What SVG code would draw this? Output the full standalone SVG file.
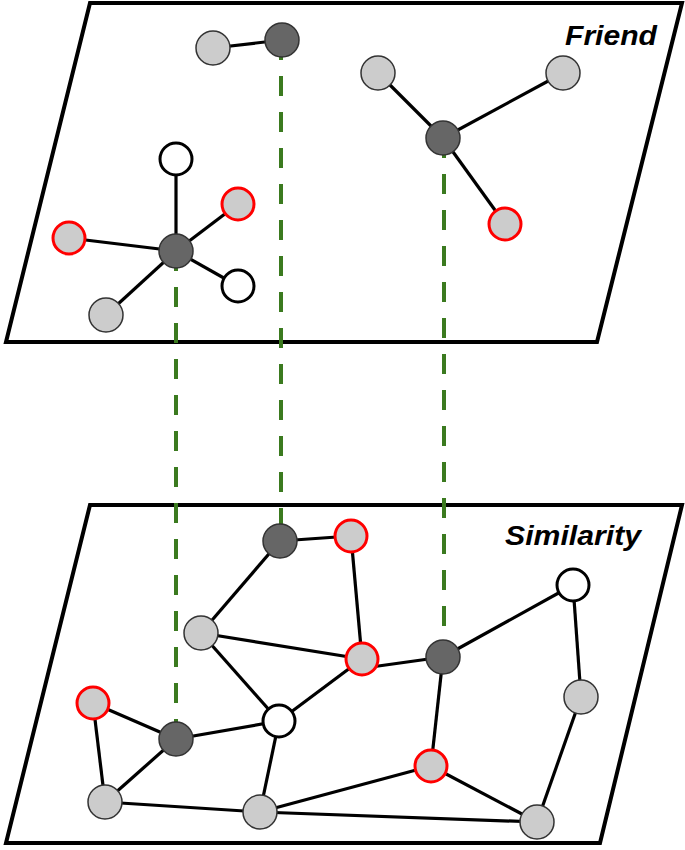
<svg xmlns="http://www.w3.org/2000/svg" width="685" height="850" viewBox="0 0 685 850">
<style>
.plane{fill:#fff;stroke:#000;stroke-width:4;stroke-linejoin:miter}
.e line{stroke:#000;stroke-width:3.2}
.link{stroke:#3b7a1f;stroke-width:4;stroke-dasharray:20 16}
.dk{fill:#666;stroke:#333;stroke-width:1.5}
.lt{fill:#ccc;stroke:#333;stroke-width:1.5}
.rd{fill:#ccc;stroke:#f00;stroke-width:3}
.wt{fill:#fff;stroke:#000;stroke-width:3}
.lbl{font-family:"Liberation Sans",Arial,sans-serif;font-weight:bold;font-style:italic;font-size:28px;fill:#000}
</style>
<g id="plane-friend"><polygon class="plane" points="90,3 682,3 597,342 6,342"/><text class="lbl" x="565" y="45" textLength="92" lengthAdjust="spacingAndGlyphs">Friend</text></g>
<g id="plane-similarity"><polygon class="plane" points="90,505 682,505 600,843 6,843"/><text class="lbl" x="505" y="545" textLength="136" lengthAdjust="spacingAndGlyphs">Similarity</text></g>
<g id="connectors">
<g class="e">
<line x1="213" y1="48" x2="282" y2="40"/>
<line x1="378" y1="73" x2="443" y2="138"/>
<line x1="563" y1="73" x2="443" y2="138"/>
<line x1="443" y1="138" x2="505" y2="224"/>
<line x1="176" y1="159" x2="176" y2="251"/>
<line x1="238" y1="204" x2="176" y2="251"/>
<line x1="69" y1="238" x2="176" y2="251"/>
<line x1="238" y1="286" x2="176" y2="251"/>
<line x1="106" y1="315" x2="176" y2="251"/>
<line x1="280" y1="541" x2="351" y2="536"/>
<line x1="280" y1="541" x2="201" y2="633"/>
<line x1="351" y1="536" x2="362" y2="659"/>
<line x1="201" y1="633" x2="362" y2="659"/>
<line x1="201" y1="633" x2="279" y2="721"/>
<line x1="362" y1="659" x2="279" y2="721"/>
<line x1="364" y1="668" x2="443" y2="657"/>
<line x1="443" y1="657" x2="573" y2="585"/>
<line x1="573" y1="585" x2="581" y2="697"/>
<line x1="581" y1="697" x2="537" y2="822"/>
<line x1="443" y1="657" x2="431" y2="766"/>
<line x1="431" y1="766" x2="537" y2="822"/>
<line x1="431" y1="766" x2="260" y2="812"/>
<line x1="279" y1="721" x2="260" y2="812"/>
<line x1="279" y1="721" x2="176" y2="739"/>
<line x1="93" y1="703" x2="176" y2="739"/>
<line x1="93" y1="703" x2="105" y2="802"/>
<line x1="176" y1="739" x2="105" y2="802"/>
<line x1="105" y1="802" x2="260" y2="812"/>
<line x1="260" y1="812" x2="537" y2="822"/>
</g>
<line class="link" x1="176" y1="251" x2="176" y2="739"/>
<line class="link" x1="281" y1="40" x2="281" y2="541"/>
<line class="link" x1="444" y1="138" x2="444" y2="657"/>
</g>
<g id="friend-nodes">
<circle id="f1" class="lt" cx="213" cy="48" r="17"/>
<circle id="f2" class="dk" cx="282" cy="40" r="17"/>
<circle id="f3" class="lt" cx="378" cy="73" r="17"/>
<circle id="f4" class="lt" cx="563" cy="73" r="17"/>
<circle id="f5" class="dk" cx="443" cy="138" r="17"/>
<circle id="f6" class="rd" cx="505" cy="224" r="16"/>
<circle id="f7" class="wt" cx="176" cy="159" r="16"/>
<circle id="f8" class="rd" cx="238" cy="204" r="16"/>
<circle id="f9" class="rd" cx="69" cy="238" r="16"/>
<circle id="f10" class="dk" cx="176" cy="251" r="17"/>
<circle id="f11" class="wt" cx="238" cy="286" r="16"/>
<circle id="f12" class="lt" cx="106" cy="315" r="17"/>
</g>
<g id="similarity-nodes">
<circle id="s1" class="dk" cx="280" cy="541" r="17"/>
<circle id="s2" class="rd" cx="351" cy="536" r="16"/>
<circle id="s3" class="wt" cx="573" cy="585" r="16"/>
<circle id="s4" class="lt" cx="201" cy="633" r="17"/>
<circle id="s5" class="rd" cx="362" cy="659" r="16"/>
<circle id="s6" class="dk" cx="443" cy="657" r="17"/>
<circle id="s7" class="lt" cx="581" cy="697" r="17"/>
<circle id="s8" class="rd" cx="93" cy="703" r="16"/>
<circle id="s9" class="wt" cx="279" cy="721" r="16"/>
<circle id="s10" class="dk" cx="176" cy="739" r="17"/>
<circle id="s11" class="rd" cx="431" cy="766" r="16"/>
<circle id="s12" class="lt" cx="105" cy="802" r="17"/>
<circle id="s13" class="lt" cx="260" cy="812" r="17"/>
<circle id="s14" class="lt" cx="537" cy="822" r="17"/>
</g>
</svg>
